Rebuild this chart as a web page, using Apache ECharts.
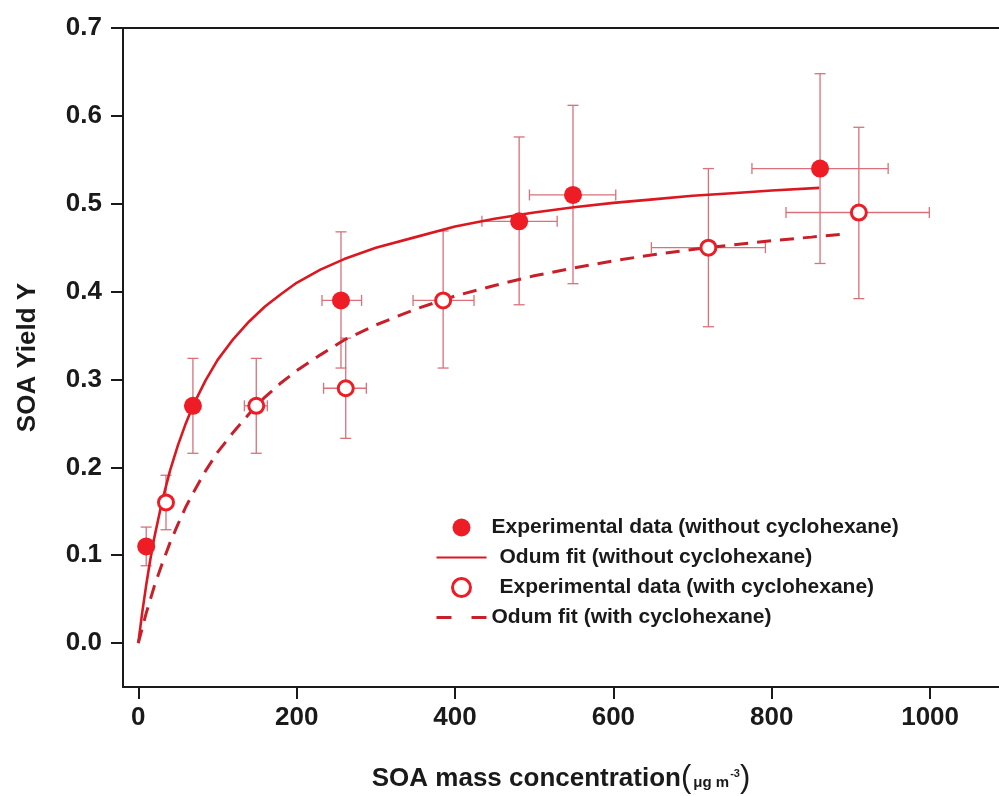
<!DOCTYPE html>
<html>
<head>
<meta charset="utf-8">
<script src="https://cdn.jsdelivr.net/npm/echarts@6/dist/echarts.min.js"></script>
<style>
html,body{margin:0;padding:0;background:#fff;}
#chart{width:999px;height:796px;}
</style>
</head>
<body>
<div id="chart"></div>
<script>
// ---- data ----
const xTicks = [0, 200, 400, 600, 800, 1000];
const yTicks = [0, 0.1, 0.2, 0.3, 0.4, 0.5, 0.6, 0.7];

// Experimental data (without cyclohexane)
const woX     = [10, 69, 256, 481, 549, 861];
const woY     = [0.11, 0.27, 0.39, 0.48, 0.51, 0.54];
const woXLow  = [10, 69, 232, 434, 494, 775];
const woXHigh = [10, 69, 282, 529, 603, 947];
const woYLow  = [0.088, 0.216, 0.313, 0.385, 0.409, 0.432];
const woYHigh = [0.132, 0.324, 0.468, 0.576, 0.612, 0.648];

// Experimental data (with cyclohexane)
const wX     = [35, 149, 262, 385, 720, 910];
const wY     = [0.16, 0.27, 0.29, 0.39, 0.45, 0.49];
const wXLow  = [35, 134, 234, 347, 648, 818];
const wXHigh = [35, 163, 288, 424, 792, 999];
const wYLow  = [0.129, 0.216, 0.233, 0.313, 0.36, 0.392];
const wYHigh = [0.191, 0.324, 0.347, 0.469, 0.54, 0.587];

// Odum fit curves
const fitWoX = [0, 5, 10, 15, 20, 30, 40, 50, 60, 70, 85, 100, 120, 140, 160, 180, 200, 230, 260, 300, 350, 400, 450, 500, 550, 600, 650, 700, 750, 800, 860];
const fitWoY = [0, 0.035, 0.066, 0.094, 0.119, 0.161, 0.196, 0.225, 0.250, 0.272, 0.299, 0.322, 0.346, 0.366, 0.383, 0.397, 0.410, 0.425, 0.437, 0.450, 0.462, 0.474, 0.483, 0.490, 0.496, 0.501, 0.505, 0.509, 0.512, 0.515, 0.518];
const fitWX  = [0, 5, 10, 15, 20, 30, 40, 50, 60, 70, 85, 100, 120, 140, 160, 180, 200, 230, 260, 300, 350, 400, 450, 500, 550, 600, 650, 700, 750, 800, 850, 896];
const fitWY  = [0, 0.017, 0.034, 0.049, 0.064, 0.090, 0.114, 0.135, 0.155, 0.172, 0.196, 0.217, 0.240, 0.261, 0.280, 0.296, 0.310, 0.328, 0.345, 0.362, 0.380, 0.395, 0.407, 0.418, 0.427, 0.435, 0.442, 0.448, 0.453, 0.458, 0.462, 0.466];

const legendNames = [
  'Experimental data (without cyclohexane)',
  'Odum fit (without cyclohexane)',
  'Experimental data (with cyclohexane)',
  'Odum fit (with cyclohexane)'
];

// ---- build ----
const FONT = '"Liberation Sans", Arial, sans-serif';
const RED = '#ee1c24';
const ERR = '#d9707a';
const SOLID = '#dc1720';
const DASHC = '#c8202a';

function zip(a, b) { return a.map((v, i) => [v, b[i]]); }
function errData(x, y, xl, xh, yl, yh) {
  return x.map((v, i) => [v, y[i], xl[i], xh[i], yl[i], yh[i]]);
}

function renderErr(params, api) {
  const x = api.value(0), y = api.value(1);
  const xl = api.value(2), xh = api.value(3), yl = api.value(4), yh = api.value(5);
  const pL = api.coord([xl, y]), pR = api.coord([xh, y]);
  const pT = api.coord([x, yh]), pB = api.coord([x, yl]);
  const cap = 5.5;
  const st = { stroke: ERR, lineWidth: 1.3 };
  const children = [];
  function ln(x1, y1, x2, y2) {
    children.push({ type: 'line', shape: { x1, y1, x2, y2 }, style: st });
  }
  ln(pT[0], pT[1], pB[0], pB[1]);
  ln(pT[0] - cap, pT[1], pT[0] + cap, pT[1]);
  ln(pB[0] - cap, pB[1], pB[0] + cap, pB[1]);
  if (pR[0] - pL[0] > 2) {
    ln(pL[0], pL[1], pR[0], pR[1]);
    ln(pL[0], pL[1] - cap, pL[0], pL[1] + cap);
    ln(pR[0], pR[1] - cap, pR[0], pR[1] + cap);
  }
  return { type: 'group', children };
}

const chart = echarts.init(document.getElementById('chart'), null, { renderer: 'canvas' });

const axisLineStyle = { color: '#1a1a1a', width: 2 };

const option = {
  animation: false,
  backgroundColor: '#ffffff',
  textStyle: { fontFamily: FONT },
  grid: { left: 123, right: 0, top: 28, bottom: 109, containLabel: false, outerBoundsMode: 'none' },
  xAxis: [{
    type: 'value',
    min: -19.3, max: 1087,
    position: 'bottom',
    axisLine: { show: true, onZero: false, lineStyle: axisLineStyle },
    axisTick: { show: true, length: 12, lineStyle: axisLineStyle, customValues: xTicks },
    axisLabel: {
      customValues: xTicks, margin: 18,
      fontSize: 26, fontWeight: 'bold', color: '#1a1a1a', fontFamily: FONT,
      formatter: v => String(v)
    },
    splitLine: { show: false },
    name: '{a|SOA mass concentration}{p|(}{b|μg m}{c|-3}{p|)}',
    nameLocation: 'middle',
    nameGap: 76,
    nameTextStyle: {
      rich: {
        a: { fontSize: 26, fontWeight: 'bold', color: '#1a1a1a', fontFamily: FONT },
        p: { fontSize: 31, fontWeight: 'normal', color: '#1a1a1a', fontFamily: FONT },
        b: { fontSize: 15, fontWeight: 'bold', color: '#1a1a1a', fontFamily: FONT, padding: [8, 0, 0, 2] },
        c: { fontSize: 11, fontWeight: 'bold', color: '#1a1a1a', fontFamily: FONT, padding: [0, 0, 10, 1] }
      }
    }
  }, {
    type: 'value',
    min: -19.3, max: 1087,
    position: 'top',
    axisLine: { show: true, onZero: false, lineStyle: axisLineStyle },
    axisTick: { show: false },
    axisLabel: { show: false },
    splitLine: { show: false }
  }],
  yAxis: {
    type: 'value',
    min: -0.05, max: 0.7,
    axisLine: { show: true, onZero: false, lineStyle: axisLineStyle },
    axisTick: { show: true, length: 12, lineStyle: axisLineStyle, customValues: yTicks },
    axisLabel: {
      customValues: yTicks, margin: 21,
      fontSize: 26, fontWeight: 'bold', color: '#1a1a1a', fontFamily: FONT,
      formatter: v => v.toFixed(1)
    },
    splitLine: { show: false },
    name: 'SOA Yield Y',
    nameLocation: 'middle',
    nameGap: 82,
    nameRotate: 90,
    nameTextStyle: { fontSize: 26, fontWeight: 'bold', color: '#1a1a1a', fontFamily: FONT }
  },
  legend: {
    orient: 'vertical',
    left: 430, top: 512,
    itemWidth: 50, itemHeight: 18, itemGap: 9,
    data: [
      { name: legendNames[0] },
      { name: legendNames[1], itemStyle: { opacity: 0 } },
      { name: legendNames[2], itemStyle: { borderWidth: 3 } },
      { name: legendNames[3], itemStyle: { opacity: 0 }, lineStyle: { type: [15, 20], width: 3 } }
    ],
    textStyle: {
      fontSize: 21, fontWeight: 'bold', color: '#1a1a1a', fontFamily: FONT,
      rich: { s: { width: 8 } }
    },
    formatter: function (name) {
      if (name === legendNames[1] || name === legendNames[2]) return '{s|}' + name;
      return name;
    }
  },
  series: [
    {
      type: 'custom', name: 'errWo', renderItem: renderErr,
      data: errData(woX, woY, woXLow, woXHigh, woYLow, woYHigh),
      encode: { x: 0, y: 1 }, z: 1, clip: false, silent: true
    },
    {
      type: 'custom', name: 'errW', renderItem: renderErr,
      data: errData(wX, wY, wXLow, wXHigh, wYLow, wYHigh),
      encode: { x: 0, y: 1 }, z: 1, clip: false, silent: true
    },
    {
      type: 'line', name: legendNames[1],
      data: zip(fitWoX, fitWoY), smooth: false,
      showSymbol: false, symbol: 'none',
      lineStyle: { color: SOLID, width: 2.6 },
      itemStyle: { color: SOLID }, z: 2
    },
    {
      type: 'line', name: legendNames[3],
      data: zip(fitWX, fitWY), smooth: false,
      showSymbol: false, symbol: 'none',
      lineStyle: { color: DASHC, width: 3, type: [14, 9] },
      itemStyle: { color: DASHC }, z: 2
    },
    {
      type: 'scatter', name: legendNames[0],
      data: zip(woX, woY), symbol: 'circle', symbolSize: 18,
      itemStyle: { color: RED, opacity: 1 }, z: 3
    },
    {
      type: 'scatter', name: legendNames[2],
      data: zip(wX, wY), symbol: 'circle', symbolSize: 15,
      itemStyle: { color: '#ffffff', borderColor: RED, borderWidth: 3, opacity: 1 }, z: 3
    }
  ]
};

chart.setOption(option);
</script>
</body>
</html>
